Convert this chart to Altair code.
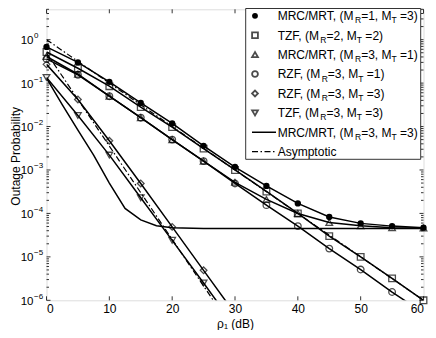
import altair as alt
import pandas as pd

# ---------------- data ----------------
snr = [0, 5, 10, 15, 20, 25, 30, 35, 40, 45, 50, 55, 60]
mrc_13 = [0.68, 0.30, 0.107, 0.035, 0.0118, 0.0036, 1.17e-3, 4.3e-4, 1.7e-4, 8.3e-5, 5.9e-5, 5.1e-5, 4.7e-5]
tzf_22 = [0.52, 0.22, 0.085, 0.028, 0.0097, 0.0031, 1.0e-3, 3.2e-4, 1.0e-4, 3.0e-5, 1.0e-5, 3.2e-6, 1.0e-6]
mrc_31 = [0.41, 0.16, 0.05, 0.016, 0.005, 0.0016, 5.2e-4, 2.1e-4, 1.0e-4, 6.2e-5, 5.2e-5, 4.7e-5, 4.6e-5]
rzf_31 = [0.36, 0.155, 0.05, 0.016, 0.005, 0.0016, 4.9e-4, 1.55e-4, 5.1e-5, 1.55e-5, 5.1e-6, 1.55e-6, 5.1e-7]
snr_steep = [0, 5, 10, 15, 20, 25, 30]
rzf_33 = [0.27, 0.042, 0.0047, 4.9e-4, 4.9e-5, 4.9e-6, 4.9e-7]
tzf_33 = [0.135, 0.018, 0.0022, 2.3e-4, 2.4e-5, 2.5e-6, 2.5e-7]
snr_mrc33 = [0, 2.5, 5, 7.5, 10, 12.5, 15, 17.5, 20, 25, 30, 35, 40, 45, 50, 55, 60]
mrc_33 = [0.13, 0.032, 0.0083, 2.2e-3, 5.0e-4, 1.3e-4, 7.1e-5, 5.2e-5, 4.7e-5,
          4.5e-5, 4.5e-5, 4.5e-5, 4.5e-5, 4.5e-5, 4.5e-5, 4.5e-5, 4.5e-5]
asym_a_snr = [0, 60]
asym_a = [1.0, 1.0e-6]
asym_b_snr = [0, 30]
asym_b = [0.5, 1.8e-7]

x_ticks = [0, 10, 20, 30, 40, 50, 60]
y_exps = [-6, -5, -4, -3, -2, -1, 0]
y_minor = [m * 10.0 ** e for e in range(-6, 1) for m in range(2, 10) if m * 10.0 ** e <= 5]

legend_rows = [
    ("filled", [("MRC/MRT, (M", 0), ("R", 1), ("=1, M", 0), ("T", 1), (" =3)", 0)]),
    ("square", [("TZF, (M", 0), ("R", 1), ("=2, M", 0), ("T", 1), (" =2)", 0)]),
    ("triangle-up", [("MRC/MRT, (M", 0), ("R", 1), ("=3, M", 0), ("T", 1), (" =1)", 0)]),
    ("circle", [("RZF, (M", 0), ("R", 1), ("=3, M", 0), ("T", 1), (" =1)", 0)]),
    ("diamond", [("RZF, (M", 0), ("R", 1), ("=3, M", 0), ("T", 1), (" =3)", 0)]),
    ("triangle-down", [("TZF, (M", 0), ("R", 1), ("=3, M", 0), ("T", 1), (" =3)", 0)]),
    ("solid", [("MRC/MRT, (M", 0), ("R", 1), ("=3, M", 0), ("T", 1), (" =3)", 0)]),
    ("dashdot", [("Asymptotic", 0)]),
]

# ---------------- tables ----------------
def long(name, xs, ps):
    return pd.DataFrame({"x": xs, "p": ps, "series": name})

marker_df = pd.concat([
    long("mrc13", snr, mrc_13),
    long("tzf22", snr, tzf_22),
    long("mrc31", snr, mrc_31),
    long("rzf31", snr, rzf_31),
    long("rzf33", snr_steep, rzf_33),
    long("tzf33", snr_steep, tzf_33),
], ignore_index=True)
solid_df = pd.concat([marker_df, long("mrc33", snr_mrc33, mrc_33)], ignore_index=True)
asym_df = pd.concat([long("a", asym_a_snr, asym_a), long("b", asym_b_snr, asym_b)], ignore_index=True)
open_df = marker_df[(marker_df.series != "mrc13") & (marker_df.p >= 9.9e-7)]
filled_df = marker_df[marker_df.series == "mrc13"]

W, H = 377, 291
FONT = "Liberation Sans"
xscale = alt.Scale(domain=[0, 60], nice=False)
yscale = alt.Scale(type="log", domain=[1e-6, 5], nice=False)
xaxis = alt.Axis(values=x_ticks, tickSize=0, labelPadding=3, labelFontSize=12, labelFont=FONT,
                 labelColor="black", title="ρ₁ (dB)", titleFontSize=12, titleFont=FONT,
                 titleFontWeight="normal", titleColor="black", titlePadding=4, domain=False, grid=False)
yaxis = alt.Axis(labels=False, ticks=False, domain=False, grid=False, title="Outage Probability",
                 titleFontSize=12, titleFont=FONT, titleFontWeight="normal", titleColor="black",
                 titleX=-31.5, titleY=H / 2 + 1, titleAngle=-90, titleAlign="center", titleBaseline="middle")

def X(field="x"):
    return alt.X(f"{field}:Q", scale=xscale, axis=xaxis)

def Y(field="p"):
    return alt.Y(f"{field}:Q", scale=yscale, axis=yaxis)

LW = 1.5
layers = []
layers.append(alt.Chart(solid_df).mark_line(clip=True, color="black", strokeWidth=LW)
              .encode(x=X(), y=Y(), detail="series:N"))
layers.append(alt.Chart(asym_df).mark_line(clip=True, color="black", strokeWidth=1.2,
                                           strokeDash=[6, 2.5, 1.5, 2.5])
              .encode(x=X(), y=Y(), detail="series:N"))
shape_dom = ["tzf22", "mrc31", "rzf31", "rzf33", "tzf33"]
shape_rng = ["square", "triangle-up", "circle", "diamond", "triangle-down"]
layers.append(alt.Chart(open_df).mark_point(filled=False, color="black", strokeWidth=1.3, size=44)
              .encode(x=X(), y=Y(), shape=alt.Shape("series:N", scale=alt.Scale(domain=shape_dom, range=shape_rng), legend=None)))
layers.append(alt.Chart(filled_df).mark_point(filled=True, color="black", shape="circle", size=40, opacity=1)
              .encode(x=X(), y=Y()))

# inward ticks (MATLAB style)
xt = pd.DataFrame({"x": x_ticks})
layers.append(alt.Chart(xt).mark_rule(color="black", strokeWidth=0.8)
              .encode(x=X(), y=alt.value(H), y2=alt.value(H - 4)))
layers.append(alt.Chart(xt).mark_rule(color="black", strokeWidth=0.8)
              .encode(x=X(), y=alt.value(0), y2=alt.value(4)))
yt = pd.DataFrame({"p": [10.0 ** e for e in y_exps],
                   "base": ["10"] * len(y_exps),
                   "ex": [("−" + str(-e)) if e < 0 else "0" for e in y_exps]})
ym = pd.DataFrame({"p": y_minor})
for x0, x1, d in [(0, 4, yt), (W, W - 4, yt), (0, 2.5, ym), (W, W - 2.5, ym)]:
    layers.append(alt.Chart(d).mark_rule(color="black", strokeWidth=0.8)
                  .encode(y=Y(), x=alt.value(x0), x2=alt.value(x1)))
layers.append(alt.Chart(yt).mark_text(align="right", baseline="middle", dy=1.5, fontSize=11.5, font=FONT, color="black")
              .encode(y=Y(), x=alt.value(-13), text="base:N"))
layers.append(alt.Chart(yt).mark_text(align="left", baseline="middle", dy=-3.5, fontSize=8, font=FONT, color="black")
              .encode(y=Y(), x=alt.value(-12.5), text="ex:N"))

# ---------------- legend ----------------
AW = {"M": .833, "R": .722, "C": .722, "/": .278, "T": .611, ",": .278, " ": .278, "(": .333, ")": .333,
      "=": .584, "Z": .611, "F": .611, "A": .667, "s": .5, "y": .5, "m": .833, "p": .556, "t": .278,
      "o": .556, "i": .222, "c": .5}

def tw(s, size):
    return sum(AW.get(c, 0.556) for c in s) * size

one = pd.DataFrame({"a": [0]})
LX0, LX1, LY0, LY1 = 199.2, 374.2, -0.8, 150.0
layers.append(alt.Chart(one).mark_rect(fill="white", stroke="black", strokeWidth=0.8)
              .encode(x=alt.value(LX0), x2=alt.value(LX1), y=alt.value(LY0), y2=alt.value(LY1)))
SYMX, TXTX, FS, SFS = 208.5, 231.2, 12, 8.5
for i, (sym, frags) in enumerate(legend_rows):
    yc = 6.5 + 19.41 * i
    if sym == "filled":
        layers.append(alt.Chart(one).mark_point(filled=True, color="black", shape="circle", size=34, opacity=1)
                      .encode(x=alt.value(SYMX), y=alt.value(yc)))
    elif sym == "solid":
        layers.append(alt.Chart(one).mark_rule(color="black", strokeWidth=LW)
                      .encode(x=alt.value(205.5), x2=alt.value(229.5), y=alt.value(yc)))
    elif sym == "dashdot":
        layers.append(alt.Chart(one).mark_rule(color="black", strokeWidth=1.2, strokeDash=[6, 2.5, 1.5, 2.5])
                      .encode(x=alt.value(205.5), x2=alt.value(229.5), y=alt.value(yc)))
    else:
        layers.append(alt.Chart(one).mark_point(filled=False, color="black", shape=sym, size=34, strokeWidth=1.8)
                      .encode(x=alt.value(SYMX), y=alt.value(yc)))
    xpos = TXTX
    for txt, sub in frags:
        size = SFS if sub else FS
        yb = yc + 4.3 + (3.3 if sub else 0)
        lead = len(txt) - len(txt.lstrip(" "))
        xdraw = xpos + tw(" " * lead, size)
        layers.append(alt.Chart(one).mark_text(align="left", baseline="alphabetic", fontSize=size, font=FONT, color="black")
                      .encode(x=alt.value(xdraw), y=alt.value(yb), text=alt.value(txt.lstrip(" "))))
        xpos += tw(txt, size)

chart = alt.layer(*layers).properties(
    width=W, height=H,
    autosize=alt.AutoSizeParams(type="none"),
    padding={"left": 38.5, "top": 1.3, "right": 4.5, "bottom": 29.7},
).configure_view(stroke="black", strokeWidth=1).configure(font=FONT, background="white")

chart.save("out.html", embed_options={"renderer": "svg", "actions": False})
